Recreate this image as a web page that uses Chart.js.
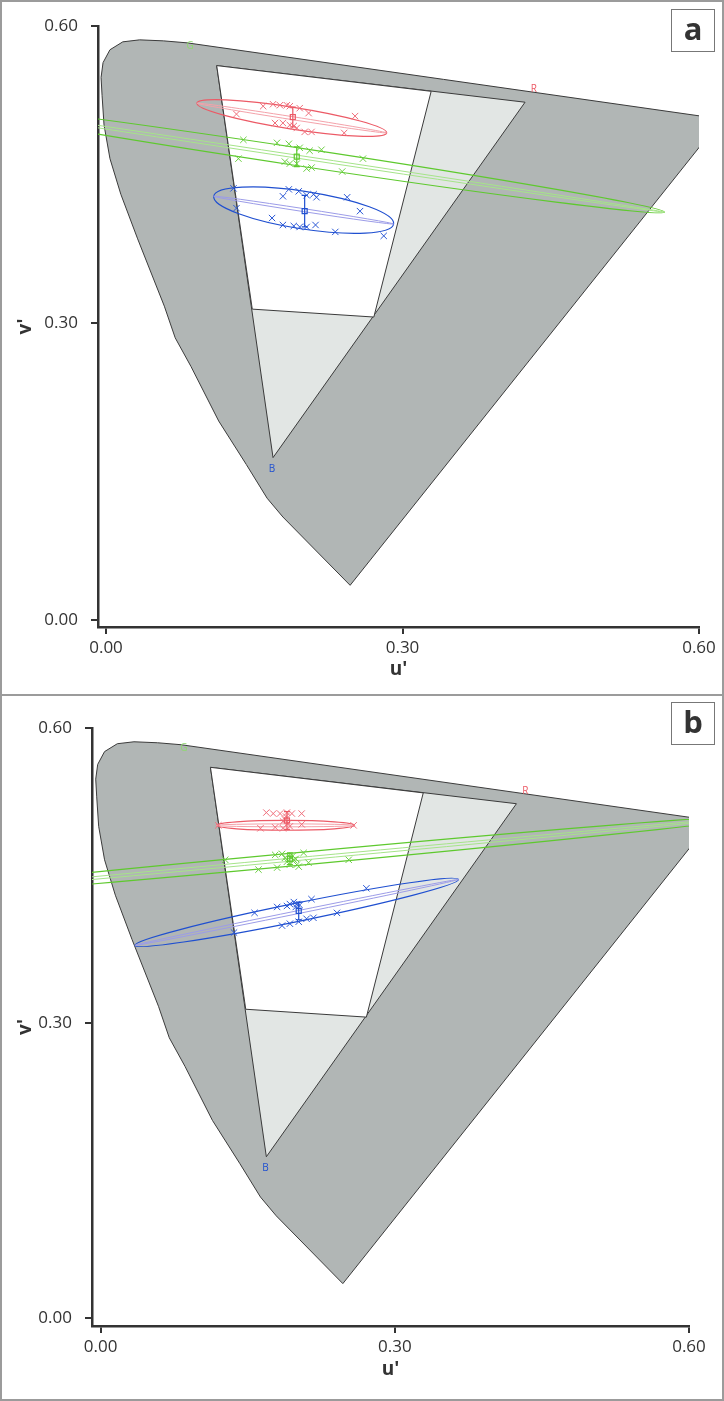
<!DOCTYPE html>
<html lang="en">

<head>
    <meta charset="UTF-8">
    <title>u'v' chromaticity</title>
    <script src="https://cdn.jsdelivr.net/npm/chart.js"></script>
    <style>
        body { margin: 0; background: #fff; }
        .painel { position: absolute; left: 0; width: 724px; box-sizing: border-box; border: 2px solid #9b9b9b; }
        #painel_a { top: 0; height: 696px; }
        #painel_b { top: 694px; height: 707px; }
        canvas { position: absolute; left: 0; }
        #grafico_a { top: 0; }
        #grafico_b { top: 695px; }
        .letra { position: absolute; left: 671px; width: 44px; height: 43px; box-sizing: border-box;
                 border: 1.5px solid #777; font: bold 31px "Open Sans", sans-serif; color: #333;
                 text-align: center; line-height: 36px; }
    </style>
</head>

<body>
    <div class="painel" id="painel_a"></div>
    <div class="painel" id="painel_b"></div>
    <canvas id="grafico_a" width="724" height="694"></canvas>
    <canvas id="grafico_b" width="724" height="706"></canvas>
    <div class="letra" style="top: 9px;">a</div>
    <div class="letra" style="top: 702px;">b</div>

<script>
    // eixos
    const ticks_valores = [0, 0.3, 0.6];

    // contorno do diagrama
    const locus_u = [0.082, 0.623, 0.247, 0.179, 0.163, 0.142, 0.114, 0.086, 0.070, 0.059, 0.032, 0.015, 0.004, -0.002, -0.004, -0.005, -0.003, 0.004, 0.017, 0.034, 0.058, 0.082];
    const locus_v = [0.583, 0.506, 0.035, 0.104, 0.123, 0.157, 0.201, 0.256, 0.285, 0.317, 0.385, 0.430, 0.466, 0.500, 0.530, 0.548, 0.563, 0.576, 0.584, 0.586, 0.585, 0.583];

    // triangulo cinza claro e area branca
    const triangulo_u = [0.112, 0.424, 0.169, 0.112];
    const triangulo_v = [0.560, 0.523, 0.164, 0.560];
    const branco_u = [0.112, 0.329, 0.271, 0.148, 0.112];
    const branco_v = [0.560, 0.534, 0.306, 0.314, 0.560];

    // marcadores R G B
    const primarias_txt = ['R', 'G', 'B'];
    const primarias_u = [0.433, 0.085, 0.168];
    const primarias_v = [0.536, 0.580, 0.152];

    // ---- painel a ----
    const a_verm_u = [0.159, 0.169, 0.176, 0.183, 0.186, 0.196, 0.205, 0.252, 0.132, 0.171, 0.179, 0.186, 0.190, 0.193, 0.201, 0.208, 0.241];
    const a_verm_v = [0.519, 0.521, 0.520, 0.520, 0.519, 0.517, 0.512, 0.509, 0.511, 0.502, 0.502, 0.500, 0.499, 0.497, 0.493, 0.493, 0.492];
    const a_verde_u = [0.139, 0.173, 0.185, 0.196, 0.206, 0.218, 0.134, 0.181, 0.186, 0.193, 0.203, 0.208, 0.239, 0.260];
    const a_verde_v = [0.485, 0.482, 0.481, 0.477, 0.474, 0.475, 0.466, 0.463, 0.461, 0.461, 0.456, 0.457, 0.453, 0.466];
    const a_azul_u = [0.129, 0.132, 0.185, 0.179, 0.195, 0.203, 0.210, 0.213, 0.244, 0.257, 0.168, 0.179, 0.190, 0.196, 0.203, 0.212, 0.232, 0.281];
    const a_azul_v = [0.436, 0.416, 0.435, 0.428, 0.433, 0.429, 0.430, 0.427, 0.427, 0.413, 0.406, 0.399, 0.398, 0.397, 0.397, 0.399, 0.392, 0.388];
    // elipses (vermelho, verde, azul): pontas do eixo maior e semi-eixo menor
    const a_elipse_u1 = [0.092, -0.178, 0.109];
    const a_elipse_v1 = [0.522, 0.524, 0.428];
    const a_elipse_u2 = [0.284, 0.565, 0.291];
    const a_elipse_v2 = [0.492, 0.412, 0.400];
    const a_elipse_b = [0.011, 0.009, 0.019];
    // media e barra de erro
    const a_centro_u = [0.189, 0.193, 0.201];
    const a_centro_v = [0.508, 0.468, 0.413];
    const a_barra = [0.010, 0.010, 0.016];

    // ---- painel b ----
    const b_verm_u = [0.169, 0.176, 0.183, 0.190, 0.195, 0.205, 0.188, 0.191, 0.163, 0.178, 0.186, 0.193, 0.205, 0.120, 0.258, 0.189, 0.186];
    const b_verm_v = [0.514, 0.513, 0.513, 0.514, 0.513, 0.513, 0.507, 0.503, 0.498, 0.499, 0.498, 0.500, 0.502, 0.501, 0.501, 0.510, 0.505];
    const b_verde_u = [0.178, 0.185, 0.193, 0.197, 0.190, 0.200, 0.207, 0.212, 0.253, 0.161, 0.180, 0.127, 0.193, 0.202, 0.188, 0.196, 0.199];
    const b_verde_v = [0.471, 0.472, 0.469, 0.466, 0.464, 0.461, 0.473, 0.463, 0.466, 0.456, 0.458, 0.466, 0.461, 0.459, 0.468, 0.470, 0.467];
    const b_azul_u = [0.157, 0.180, 0.190, 0.193, 0.200, 0.203, 0.215, 0.271, 0.241, 0.136, 0.185, 0.193, 0.202, 0.210, 0.217, 0.197, 0.199];
    const b_azul_v = [0.412, 0.418, 0.419, 0.421, 0.421, 0.420, 0.426, 0.437, 0.412, 0.392, 0.399, 0.401, 0.403, 0.406, 0.407, 0.423, 0.418];
    const b_elipse_u1 = [0.118, -0.281, 0.035];
    const b_elipse_v1 = [0.501, 0.422, 0.379];
    const b_elipse_u2 = [0.259, 0.667, 0.365];
    const b_elipse_v2 = [0.501, 0.510, 0.446];
    const b_elipse_b = [0.005, 0.0065, 0.0093];
    const b_centro_u = [0.190, 0.193, 0.202];
    const b_centro_v = [0.506, 0.467, 0.414];
    const b_barra = [0.009, 0.006, 0.009];

    // estilos
    const cores = ['#ec5a66', '#5ec92e', '#1f4fd0'];
    const cores_claras = ['#f4a2aa', '#a6e48a', '#9c9ce8'];
    const cores_x = ['#f06f7c', '#6cd042', '#2b58d6'];
    const cores_letras = ['#ec5a66', '#8fd870', '#2050d0'];
    const elipse_interna_b = 0.0015;
    const fonte = '"Open Sans", sans-serif';

    function pares(us, vs) {
        return us.map((u, i) => ({ x: u, y: vs[i] }));
    }

    function elipse(ctx, sx, sy, u1, v1, u2, v2, b, cor, largura) {
        const x1 = sx.getPixelForValue(u1), y1 = sy.getPixelForValue(v1);
        const x2 = sx.getPixelForValue(u2), y2 = sy.getPixelForValue(v2);
        const raio_maior = Math.hypot(x2 - x1, y2 - y1) / 2;
        const raio_menor = Math.abs(sy.getPixelForValue(0) - sy.getPixelForValue(b));
        ctx.beginPath();
        ctx.ellipse((x1 + x2) / 2, (y1 + y2) / 2, raio_maior, raio_menor, Math.atan2(y2 - y1, x2 - x1), 0, 2 * Math.PI);
        ctx.strokeStyle = cor;
        ctx.lineWidth = largura;
        ctx.stroke();
    }

    function cria_grafico(id, p, lay) {
        const contorno = '#3b3b3b';
        const datasets = [
            { type: 'line', data: pares(locus_u, locus_v), borderColor: contorno, borderWidth: 1, backgroundColor: '#b1b6b5', fill: 'shape', pointRadius: 0, tension: 0, order: 9 },
            { type: 'line', data: pares(triangulo_u, triangulo_v), borderColor: contorno, borderWidth: 1, backgroundColor: '#e2e6e4', fill: 'shape', pointRadius: 0, tension: 0, order: 8 },
            { type: 'line', data: pares(branco_u, branco_v), borderColor: contorno, borderWidth: 1, backgroundColor: '#ffffff', fill: 'shape', pointRadius: 0, tension: 0, order: 7 }
        ];
        for (let s = 0; s < 3; s++) {
            datasets.push({
                type: 'scatter', data: pares(p.pontos_u[s], p.pontos_v[s]),
                pointStyle: 'crossRot', pointRadius: 4.5, borderWidth: 1,
                borderColor: cores_x[s], backgroundColor: cores_x[s], order: 3 - s
            });
        }

        const desenhos = {
            id: 'desenhos',
            afterDatasetDraw(chart, args) {
                if (args.index !== 2) return;
                const ctx = chart.ctx, sx = chart.scales.x, sy = chart.scales.y, area = chart.chartArea;
                ctx.save();
                ctx.beginPath();
                ctx.rect(area.left, area.top, area.right - area.left, area.bottom - area.top);
                ctx.clip();
                for (let s = 0; s < 3; s++) {
                    elipse(ctx, sx, sy, p.u1[s], p.v1[s], p.u2[s], p.v2[s], p.b[s], cores[s], 1.2);
                    elipse(ctx, sx, sy, p.u1[s], p.v1[s], p.u2[s], p.v2[s], elipse_interna_b, cores_claras[s], 1);
                }
                ctx.restore();
            },
            afterDatasetsDraw(chart) {
                const ctx = chart.ctx, sx = chart.scales.x, sy = chart.scales.y;
                ctx.save();
                for (let s = 0; s < 3; s++) {
                    const x = sx.getPixelForValue(p.centro_u[s]);
                    const yc = sy.getPixelForValue(p.centro_v[s]);
                    const y1 = sy.getPixelForValue(p.centro_v[s] + p.barra[s]);
                    const y2 = sy.getPixelForValue(p.centro_v[s] - p.barra[s]);
                    ctx.strokeStyle = cores[s];
                    ctx.lineWidth = 1.2;
                    ctx.beginPath();
                    ctx.moveTo(x, y1); ctx.lineTo(x, y2);
                    ctx.moveTo(x - 3, y1); ctx.lineTo(x + 3, y1);
                    ctx.moveTo(x - 3, y2); ctx.lineTo(x + 3, y2);
                    ctx.stroke();
                    ctx.strokeRect(x - 2.5, yc - 2.5, 5, 5);
                }
                ctx.font = '10px ' + fonte;
                ctx.textAlign = 'center';
                ctx.textBaseline = 'middle';
                for (let i = 0; i < primarias_txt.length; i++) {
                    ctx.fillStyle = cores_letras[i];
                    ctx.fillText(primarias_txt[i], sx.getPixelForValue(primarias_u[i]), sy.getPixelForValue(primarias_v[i]));
                }
                ctx.restore();
            }
        };

        const eixo = (min, titulo, pad_titulo) => ({
            type: 'linear', min: min, max: 0.6,
            afterBuildTicks: s => { s.ticks = ticks_valores.map(v => ({ value: v })); },
            ticks: { callback: v => v.toFixed(2), font: { family: fonte, size: 17 }, color: '#333', autoSkip: false, maxRotation: 0 },
            grid: { drawOnChartArea: false, drawTicks: true, tickLength: 7, color: '#333', lineWidth: 2 },
            border: { display: true, color: '#333', width: 2.5 },
            title: { display: true, text: titulo, font: { family: fonte, size: 19, weight: 'bold' }, color: '#333', padding: pad_titulo }
        });

        const eixo_x = eixo(lay.min_u, "u'", { top: 0, bottom: lay.pad_tx });
        eixo_x.ticks.padding = 4;
        eixo_x.afterFit = s => { s.height = lay.altura_x; };
        const eixo_y = eixo(lay.min_v, "v'", { top: lay.pad_ty, bottom: 0 });
        eixo_y.ticks.padding = 13;
        eixo_y.afterFit = s => { s.width = lay.largura_y; };

        return new Chart(document.getElementById(id), {
            type: 'scatter',
            data: { datasets: datasets },
            options: {
                responsive: false,
                animation: false,
                devicePixelRatio: 1,
                layout: { padding: { top: lay.topo, right: lay.direita, left: 0, bottom: 0 } },
                plugins: { legend: { display: false }, tooltip: { enabled: false } },
                scales: { x: eixo_x, y: eixo_y }
            },
            plugins: [desenhos]
        });
    }

    cria_grafico('grafico_a', {
        pontos_u: [a_verm_u, a_verde_u, a_azul_u], pontos_v: [a_verm_v, a_verde_v, a_azul_v],
        u1: a_elipse_u1, v1: a_elipse_v1, u2: a_elipse_u2, v2: a_elipse_v2, b: a_elipse_b,
        centro_u: a_centro_u, centro_v: a_centro_v, barra: a_barra
    }, { altura_x: 67, largura_y: 98, topo: 26, direita: 25, min_u: -0.0081, min_v: -0.0071, pad_tx: 13, pad_ty: 14 });

    cria_grafico('grafico_b', {
        pontos_u: [b_verm_u, b_verde_u, b_azul_u], pontos_v: [b_verm_v, b_verde_v, b_azul_v],
        u1: b_elipse_u1, v1: b_elipse_v1, u2: b_elipse_u2, v2: b_elipse_v2, b: b_elipse_b,
        centro_u: b_centro_u, centro_v: b_centro_v, barra: b_barra
    }, { altura_x: 75, largura_y: 92, topo: 33, direita: 35, min_u: -0.0088, min_v: -0.0081, pad_tx: 20, pad_ty: 14 });
</script>
</body>
</html>
